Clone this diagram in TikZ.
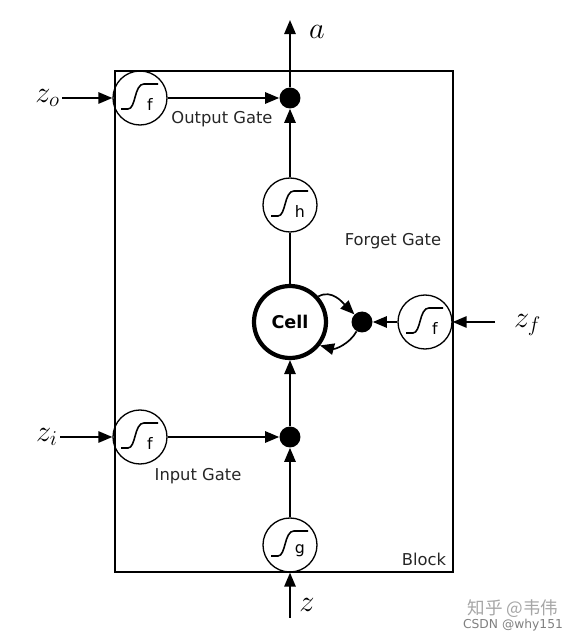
\documentclass[tikz,border=0pt]{standalone}
\usepackage{fontspec}
\usetikzlibrary{arrows.meta}
\newfontfamily\labf{DejaVu Sans}
\newfontfamily\cjkf{Noto Sans CJK SC}
\newcommand\sigm[2]{%
  \begin{scope}[shift={(#1.center)}]
    \draw[line width=0.9pt] (-19,-11) -- (-12,-11) .. controls (-4,-11) and (-6,14) .. (4,14) -- (18,14);
    \node[glet] (#1l) at (10,-6) {#2};
  \end{scope}}
\begin{document}
\begin{tikzpicture}[x=0.02cm,y=0.02cm,
  line/.style={line width=0.95pt},
  arr/.style={line width=0.95pt,-{Triangle[length=8pt,width=6.5pt]}},
  gate/.style={circle,draw,line width=0.75pt,minimum size=1.08cm,inner sep=0pt},
  dotn/.style={circle,fill=black,minimum size=0.42cm,inner sep=0pt},
  lbl/.style={font=\labf\fontsize{9.3}{11}\selectfont,text=black!85},
  glet/.style={font=\labf\fontsize{9}{10}\selectfont,inner sep=0pt},
  mlab/.style={font=\fontsize{17}{18}\selectfont,inner sep=1pt}]
\useasboundingbox (0,0) rectangle (571,643);
\draw[line width=1.1pt] (115,71) rectangle (453,572);

% nodes
\node[dotn] (odot) at (290,545) {};
\node[gate] (og) at (140,545) {};
\node[gate] (h) at (290,438) {};
\node[circle,draw,line width=2.4pt,minimum size=1.44cm,inner sep=0pt,font=\labf\bfseries\fontsize{10}{11}\selectfont] (cell) at (290,321) {Cell};
\node[dotn] (fdot) at (362,321) {};
\node[gate] (fg) at (425,321) {};
\node[dotn] (idot) at (290,206) {};
\node[gate] (ig) at (140,206) {};
\node[gate] (g) at (290,98) {};

\sigm{og}{f}
\sigm{h}{h}
\sigm{fg}{f}
\sigm{ig}{f}
\sigm{g}{g}

% labels
\node[mlab,anchor=east] (zo) at (62,545) {$z_o$};
\node[mlab,anchor=east] (zi) at (60,206) {$z_i$};
\node[mlab,anchor=west] (zf) at (512,318) {$z_f$};
\node[mlab] (zl) at (307,38) {$z$};
\node[mlab] (al) at (317,611) {$a$};
\coordinate (zb) at (290,25);
\coordinate (atop) at (290,623);
\coordinate (zfs) at (495,321);

\node[lbl] (outg) at (222,524) {Output Gate};
\node[lbl] (forg) at (393,402) {Forget Gate};
\node[lbl] (ing) at (198,167) {Input Gate};
\node[lbl] (blk) at (424,84) {Block};

% connectors
\draw[arr] (zb) -- (g.south);
\draw[arr] (g) -- (idot);
\draw[arr] (idot) -- (cell);
\draw[line] (cell) -- (h);
\draw[arr] (h) -- (odot);
\draw[arr] (odot) -- (atop);
\draw[arr] (zo) -- (og);
\draw[arr] (og) -- (odot);
\draw[arr] (zi) -- (ig);
\draw[arr] (ig) -- (idot);
\draw[arr] (zfs) -- (fg);
\draw[arr] (fg) -- (fdot);
\draw[arr] (cell.42) to[out=30,in=135] (fdot.135);
\draw[arr] (fdot.-120) to[out=-120,in=-15] (cell.-38);

% watermark
\node[font=\cjkf\fontsize{10}{11}\selectfont,text=black!35] (wm1) at (513,34) {知乎 @韦伟};
\node[font=\labf\fontsize{7}{8}\selectfont,text=black!50] (wm2) at (513,18) {CSDN @why151};
\end{tikzpicture}
\end{document}
